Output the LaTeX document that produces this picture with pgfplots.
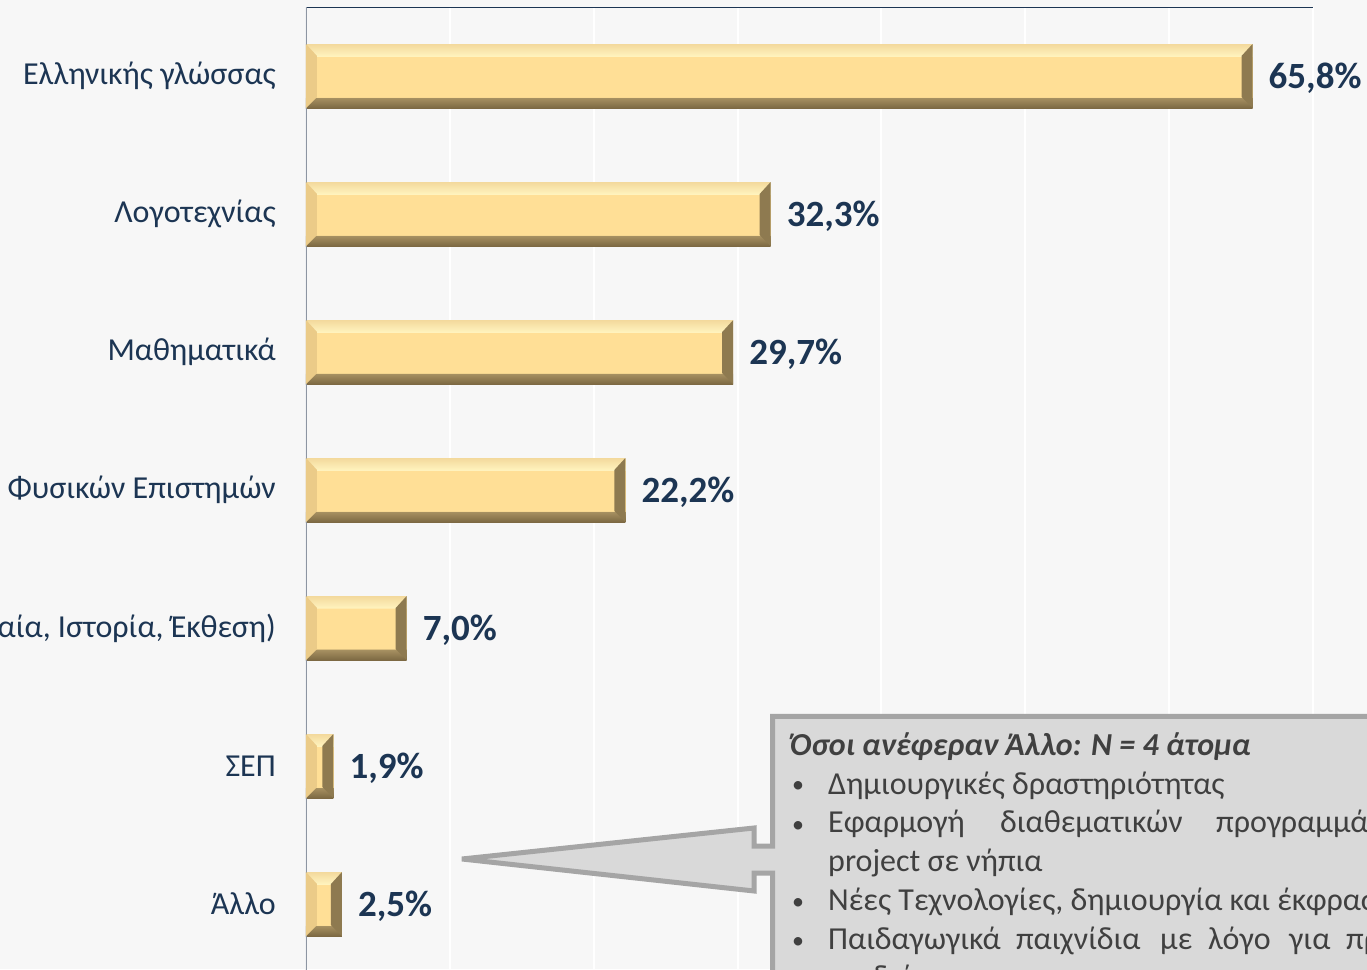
\documentclass[border=0pt]{standalone}
\usepackage{fontspec}
\setmainfont{Carlito}
\usepackage{pgfplots}
\usepackage{pgfplotstable}
\pgfplotsset{compat=1.18}
\definecolor{bg}{HTML}{F7F7F7}
\definecolor{navy}{HTML}{1C3553}
\definecolor{axgray}{HTML}{8D95A2}
\definecolor{gold}{HTML}{FFDF96}
\definecolor{topA}{HTML}{F3D99C}
\definecolor{topB}{HTML}{FFF3BE}
\definecolor{botA}{HTML}{A99363}
\definecolor{botB}{HTML}{7D6943}
\definecolor{rgt}{HTML}{8E7A50}
\definecolor{lft}{HTML}{EBCB88}
\definecolor{boxfill}{HTML}{D9D9D9}
\definecolor{boxline}{HTML}{A5A5A5}
\definecolor{boxtext}{HTML}{404040}
\pgfdeclareverticalshading{bevelv}{100bp}{color(0bp)=(botB); color(25bp)=(botB); color(33.4bp)=(botA); color(33.6bp)=(gold); color(65.4bp)=(gold); color(65.6bp)=(topB); color(75bp)=(topA); color(100bp)=(topA)}
\pgfdeclareplotmark{rbevel}{%
  \pgfpathmoveto{\pgfqpoint{0pt}{32pt}}\pgfpathlineto{\pgfqpoint{0pt}{-32pt}}%
  \pgfpathlineto{\pgfqpoint{-11pt}{-21pt}}\pgfpathlineto{\pgfqpoint{-11pt}{20pt}}%
  \pgfpathclose\pgfusepathqfill}
\pgfdeclareplotmark{lbevel}{%
  \pgfpathmoveto{\pgfqpoint{0pt}{32pt}}\pgfpathlineto{\pgfqpoint{0pt}{-32pt}}%
  \pgfpathlineto{\pgfqpoint{11pt}{-21pt}}\pgfpathlineto{\pgfqpoint{11pt}{20pt}}%
  \pgfpathclose\pgfusepathqfill}
\pgfplotstableread{
val cat
65.8 0
32.3 1
29.7 2
22.2 3
7.0 4
1.9 5
2.5 6
}\data
\begin{document}
\begin{tikzpicture}
\useasboundingbox (0,0) rectangle (1367pt,969pt);
\clip (0,0) rectangle (1367pt,969pt);
\fill[bg] (0,0) rectangle (1367pt,969pt);
\begin{axis}[
  at={(306pt,-4pt)}, anchor=south west,
  scale only axis, width=1007pt, height=966pt,
  xmin=0, xmax=70, ymin=-0.5, ymax=6.5, y dir=reverse,
  xtick={0,10,...,70}, xticklabel=\empty,
  xmajorgrids, grid style={white, line width=2pt},
  ytick={0,...,6},
  yticklabels={Ελληνικής γλώσσας, Λογοτεχνίας, Μαθηματικά, Φυσικών Επιστημών, {Άλλα μαθήματα (Αρχαία, Ιστορία, Έκθεση)}, ΣΕΠ, Άλλο},
  major tick length=0pt,
  axis line style={draw=none},
  yticklabel style={font=\fontsize{32}{36}\selectfont, text=navy, inner sep=0pt, xshift=-30pt},
  /pgf/number format/assume math mode=true,
]
\pgfplotsinvokeforeach{0,...,6}{
\addplot[xbar, bar width=64pt, bar shift=0pt, draw=none, shading=bevelv,
  restrict y to domain=#1:#1, point meta=x,
  nodes near coords={\pgfmathprintnumber[fixed,fixed zerofill,precision=1,use comma]{\pgfplotspointmeta}\%},
  nodes near coords style={font=\fontsize{37}{40}\selectfont\bfseries, text=navy, anchor=west, inner sep=0pt, xshift=16pt, yshift=-2pt}]
  table[x=val, y=cat] {\data};
}
\addplot[only marks, mark=rbevel, mark options={fill=rgt, draw=none}] table[x=val, y=cat] {\data};
\addplot[only marks, mark=lbevel, mark options={fill=lft, draw=none}] table[x expr=0, y=cat] {\data};
\draw[navy, line width=2.5pt] (axis cs:0,-0.5) -- (axis cs:70,-0.5);
\draw[axgray, line width=2pt] (axis cs:0,-0.5) -- (axis cs:0,6.5);
\end{axis}
\begin{scope}[x=1pt, y=-1pt, yshift=969pt]
\draw[boxline, fill=boxfill, line width=5pt, line join=miter, miter limit=2]
  (772.5,1010) -- (772.5,873) -- (754,873) -- (754,891) -- (462,859) -- (754,828)
  -- (754,846) -- (772.5,846) -- (772.5,716.5) -- (1420,716.5) -- (1420,1010) -- cycle;
\begin{scope}[every node/.style={anchor=base west, inner sep=0pt, text=boxtext, font=\fontsize{32}{38}\selectfont}]
\node[font=\fontsize{32}{38}\selectfont\bfseries\itshape] at (790,756) {Όσοι ανέφεραν Άλλο: N = 4 άτομα};
\tikzset{bul/.style={font=\fontsize{24}{28}\selectfont}}
\node[bul] at (792,793) {•}; \node at (828,794) {Δημιουργικές δραστηριότητας};
\node[bul] at (792,832) {•}; \node at (828,833) {Εφαρμογή}; \node at (1000,833) {διαθεματικών}; \node at (1216,833) {προγραμμάτων};
\node at (828,871) {project σε νήπια};
\node[bul] at (792,909) {•}; \node at (828,910) {Νέες Τεχνολογίες, δημιουργία και έκφραση};
\node[bul] at (792,948) {•}; \node at (828,949) {Παιδαγωγικά}; \node at (1016,949) {παιχνίδια}; \node at (1160,949) {με};
\node at (1208,949) {λόγο}; \node at (1289,949) {για}; \node at (1346,949) {προσχολική};
\node at (828,987) {παιδιά};
\end{scope}
\end{scope}
\end{tikzpicture}
\end{document}
